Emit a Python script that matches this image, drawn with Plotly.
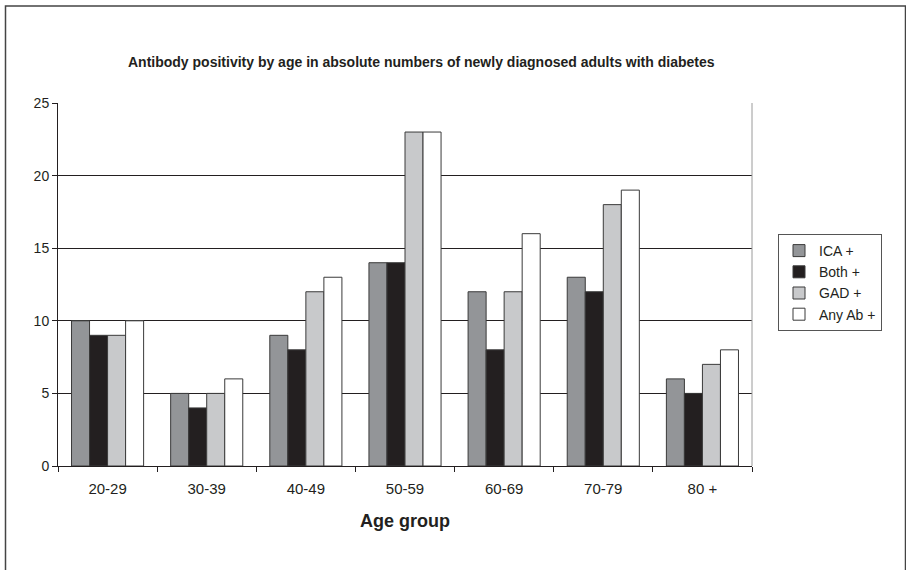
import plotly.graph_objects as go

categories = ["20-29", "30-39", "40-49", "50-59", "60-69", "70-79", "80 +"]
ica = [10, 5, 9, 14, 12, 13, 6]
both = [9, 4, 8, 14, 8, 12, 5]
gad = [9, 5, 12, 23, 12, 18, 7]
any_ab = [10, 6, 13, 23, 16, 19, 8]
series_names = ["ICA +", "Both +", "GAD +", "Any Ab +"]
series_colors = ["#939598", "#231f20", "#c8c9cb", "#ffffff"]
y_ticks = [0, 5, 10, 15, 20, 25]

W, H = 906, 570
L, R, T, B = 58, 752, 103, 466

fig = go.Figure()
for name, vals, col in zip(series_names, [ica, both, gad, any_ab], series_colors):
    fig.add_trace(go.Bar(x=categories, y=vals, name=name,
                         marker=dict(color=col, line=dict(color="#3a3a3a", width=1))))

def px_x(px):
    return (px - L) / (R - L)

def px_y(py):
    return (B - py) / (B - T)

fig.update_layout(
    width=W, height=H,
    margin=dict(l=L, r=W - R, t=T, b=H - B, pad=0),
    paper_bgcolor="white", plot_bgcolor="white",
    barmode="group", bargap=0.2727, bargroupgap=0,
    font=dict(family="Liberation Sans, Arial", color="#231f20", size=14),
    showlegend=True,
    legend=dict(x=px_x(778), y=px_y(234), xanchor="left", yanchor="top",
                bordercolor="#555555", borderwidth=1, bgcolor="white",
                font=dict(size=14, family="Liberation Sans, Arial", color="#231f20"),
                itemwidth=30),
    xaxis=dict(type="category", showline=True, linecolor="#231f20", linewidth=1,
               ticks="outside", tickson="boundaries", ticklen=5, tickcolor="#231f20",
               tickfont=dict(size=15), showgrid=False, ticklabelstandoff=9,
               title=dict(text="<b>Age group</b>", font=dict(size=18), standoff=18)),
    yaxis=dict(range=[0, 25], tickvals=y_ticks, showline=True, linecolor="#231f20",
               linewidth=1, ticks="outside", ticklen=5, tickcolor="#231f20",
               showgrid=True, gridcolor="#231f20", gridwidth=1,
               zeroline=False, tickfont=dict(size=14)),
    annotations=[dict(text="<b>Antibody positivity by age in absolute numbers of newly diagnosed adults with diabetes</b>",
                      x=px_x(421), y=px_y(62), xref="paper", yref="paper",
                      xanchor="center", yanchor="middle", showarrow=False,
                      font=dict(size=14, color="#231f20"))],
    shapes=[
        dict(type="line", xref="paper", yref="paper", x0=1, x1=1, y0=0, y1=1,
             line=dict(color="#9a9a9a", width=1)),
        dict(type="rect", xref="paper", yref="paper",
             x0=px_x(5.5), x1=px_x(905.5), y0=px_y(6), y1=px_y(580),
             line=dict(color="#444444", width=1.5), layer="below"),
    ],
)

fig.write_html("out.html", config={"displayModeBar": False},
               post_script="document.body.style.margin='0';document.body.style.overflow='hidden';")
